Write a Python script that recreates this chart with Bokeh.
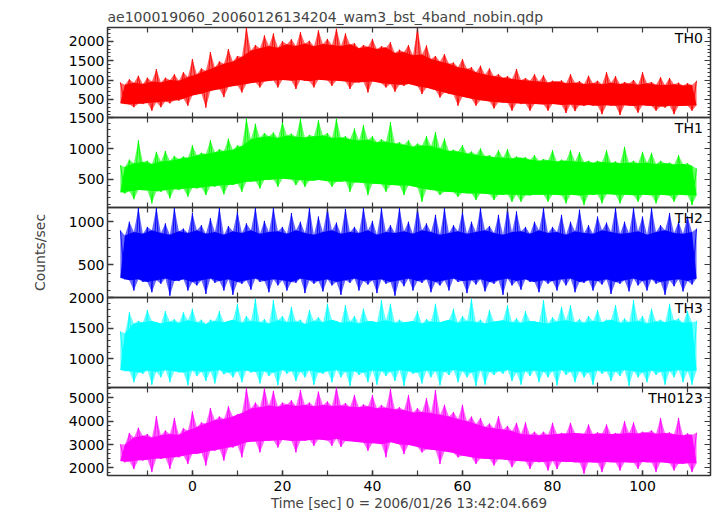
import math
from bokeh.plotting import figure
from bokeh.models import Range1d, LinearAxis, SingleIntervalTicker, FixedTicker, Label
from bokeh.layouts import column
from bokeh.embed import file_html
from bokeh.resources import INLINE

# ---------------- data ----------------
# spike peaks and lower edge of the dense core at even seconds,
# spike troughs and upper edge of the dense core at odd seconds
t_even = list(range(-16, 113, 2))
t_odd = list(range(-15, 112, 2))

th0_peak = [940, 1020, 1110, 1060, 1280, 1060, 1150, 1200, 1540, 1300,
            1720, 1480, 1800, 1620, 2350, 1900, 2150, 2200, 2000, 2050,
            2230, 2010, 2280, 2060, 2320, 2200, 1950, 1900, 2060, 1870,
            1975, 1780, 1900, 2350, 1890, 1620, 1670, 1450, 1540, 1330,
            1370, 1300, 1150, 1100, 1285, 1050, 1150, 1120, 980, 990,
            1150, 970, 1110, 980, 1200, 1100, 950, 1000, 1200, 950,
            1070, 1050, 930, 920, 980]
th0_trough = [380, 300, 380, 210, 300, 400, 470, 340, 640, 290,
              770, 560, 855, 680, 940, 810, 980, 810, 1030, 770,
              980, 810, 1030, 850, 985, 770, 940, 680, 985, 810,
              700, 850, 980, 640, 810, 550, 640, 340, 550, 340,
              470, 270, 420, 210, 380, 210, 380, 210, 380, 150,
              200, 330, 340, 120, 340, 100, 340, 160, 340, 210,
              290, 120, 340, 210]
th0_core_top = [880, 930, 900, 960, 940, 1000, 980, 1080,
                1150, 1240, 1330, 1420, 1480, 1600, 1760, 1820,
                1880, 1830, 1920, 1880, 1940, 1870, 1930, 1900,
                1880, 1920, 1820, 1860, 1800, 1840, 1700, 1720,
                1640, 1660, 1540, 1480, 1420, 1330, 1290, 1200,
                1140, 1100, 1060, 1030, 1000, 980, 960, 940,
                960, 920, 930, 900, 920, 890, 930, 900,
                910, 880, 920, 880, 870, 890, 860, 870]
th0_core_bottom = [400, 370, 390, 410, 430, 450, 470, 520,
                   600, 650, 720, 760, 820, 860, 900, 940,
                   960, 990, 1000, 980, 1000, 970, 1010, 990,
                   980, 960, 940, 950, 960, 920, 900, 880,
                   900, 840, 800, 740, 680, 620, 570, 520,
                   480, 450, 430, 410, 400, 390, 380, 370,
                   380, 360, 370, 350, 360, 340, 350, 340,
                   350, 330, 350, 330, 320, 340, 330, 340, 350]

th1_peak = [730, 820, 1130, 800, 946, 960, 880, 870, 1053, 930,
            1134, 990, 1160, 1050, 1483, 1400, 1250, 1260, 1429, 1240,
            1483, 1220, 1456, 1250, 1483, 1200, 1322, 1380, 1200, 1150,
            1429, 1100, 1134, 1080, 1200, 1268, 1161, 980, 1053, 950,
            1000, 890, 972, 990, 870, 860, 892, 830, 972, 820,
            972, 940, 800, 800, 972, 790, 1026, 800, 946, 930,
            800, 770, 892, 760, 677]
th1_trough = [273, 180, 327, 112, 300, 193, 327, 220, 354, 247,
              381, 260, 408, 300, 462, 354, 489, 381, 515, 408,
              380, 480, 489, 381, 462, 300, 462, 247, 435, 300,
              408, 247, 408, 139, 327, 247, 300, 220, 273, 166,
              273, 166, 247, 139, 140, 240, 247, 139, 247, 112,
              247, 85, 247, 112, 273, 112, 247, 139, 247, 112,
              247, 139, 247, 85]
th1_core_top = [700, 760, 780, 750, 790, 800, 830, 850,
                890, 910, 940, 960, 980, 1040, 1150, 1180,
                1200, 1170, 1210, 1190, 1180, 1200, 1210, 1170,
                1180, 1150, 1130, 1140, 1100, 1110, 1080, 1060,
                1030, 1050, 1040, 1000, 960, 950, 920, 900,
                880, 860, 850, 840, 850, 820, 800, 810,
                790, 800, 790, 780, 770, 780, 770, 760,
                770, 760, 770, 750, 760, 740, 750, 720]
th1_core_bottom = [290, 310, 330, 320, 310, 330, 340, 350,
                   360, 370, 390, 400, 410, 430, 460, 470,
                   490, 500, 510, 500, 490, 480, 490, 470,
                   460, 470, 450, 440, 430, 420, 410, 400,
                   400, 370, 340, 320, 300, 290, 280, 270,
                   270, 260, 250, 255, 250, 245, 250, 250,
                   250, 245, 250, 240, 250, 255, 260, 250,
                   250, 245, 250, 245, 250, 240, 250, 245, 240]

th2_peak = [900, 1000, 1160, 940, 1160, 980, 1160, 920, 1100, 960,
            1040, 1160, 950, 1120, 980, 1160, 1010, 1160, 940, 1100,
            1000, 1160, 1060, 1160, 990, 1150, 940, 1160, 1010, 1160,
            960, 1160, 1000, 1160, 980, 1080, 1160, 960, 1120, 1000,
            1160, 950, 1080, 1160, 1120, 940, 1000, 1160, 940, 1080,
            1000, 1140, 960, 1060, 990, 1160, 1000, 1160, 1060, 1160,
            960, 1100, 1000, 1060, 920]
th2_trough = [330, 200, 300, 180, 280, 140, 310, 200, 260, 160,
              290, 200, 150, 280, 210, 300, 180, 260, 200, 290,
              170, 280, 190, 260, 150, 290, 200, 270, 170, 280,
              140, 250, 200, 290, 180, 260, 200, 300, 170, 270,
              190, 280, 150, 260, 210, 300, 180, 280, 200, 260,
              180, 290, 200, 270, 160, 280, 190, 260, 200, 280,
              150, 250, 190, 270]
th2_core_top = [840, 880, 860, 900, 870, 850, 890, 870,
                900, 860, 880, 850, 890, 870, 900, 860,
                880, 890, 860, 900, 870, 850, 880, 900,
                860, 880, 870, 900, 850, 880, 870, 890,
                860, 900, 880, 850, 870, 890, 860, 880,
                900, 870, 850, 880, 890, 860, 900, 870,
                880, 850, 890, 870, 860, 900, 880, 860,
                870, 890, 850, 880, 900, 870, 860, 880]
th2_core_bottom = [350, 320, 330, 300, 320, 340, 310, 330,
                   300, 320, 340, 310, 330, 300, 320, 340,
                   310, 330, 320, 300, 340, 320, 310, 330,
                   300, 320, 340, 310, 320, 330, 300, 320,
                   340, 310, 330, 300, 320, 340, 310, 320,
                   330, 300, 320, 340, 310, 330, 300, 320,
                   310, 330, 340, 300, 320, 310, 330, 300,
                   320, 340, 310, 330, 300, 320, 330, 310, 340]

th3_peak = [1450, 1760, 1620, 1800, 1600, 1780, 1650, 1760, 1820, 1640,
            1640, 1780, 1620, 1900, 1700, 1980, 1650, 1960, 1700, 1850,
            1640, 1800, 1680, 1900, 1620, 1880, 1700, 1820, 1620, 1960,
            1900, 1640, 1600, 1780, 1650, 1900, 1620, 1820, 1700, 1980,
            1640, 1800, 1620, 1880, 1660, 1780, 1620, 1960, 1680, 1850,
            1880, 1650, 1700, 1800, 1640, 1880, 1660, 1960, 1700, 1820,
            1640, 1900, 1660, 1780, 1620]
th3_trough = [800, 620, 760, 580, 700, 620, 780, 570, 720, 640,
              600, 750, 700, 620, 780, 600, 720, 570, 760, 640,
              700, 580, 760, 620, 700, 560, 740, 620, 580, 720,
              640, 560, 760, 600, 700, 570, 740, 620, 700, 560,
              580, 740, 760, 640, 580, 720, 620, 700, 570, 740,
              620, 700, 580, 760, 640, 720, 560, 700, 620, 740,
              580, 700, 620, 580]
th3_core_top = [1420, 1580, 1600, 1620, 1580, 1610, 1590, 1630,
                1600, 1570, 1620, 1600, 1640, 1590, 1620, 1600,
                1580, 1630, 1600, 1610, 1570, 1620, 1600, 1640,
                1590, 1610, 1580, 1620, 1600, 1630, 1590, 1600,
                1620, 1580, 1610, 1600, 1640, 1590, 1620, 1600,
                1580, 1610, 1630, 1600, 1590, 1620, 1600, 1580,
                1610, 1630, 1600, 1590, 1620, 1600, 1640, 1590,
                1600, 1620, 1580, 1610, 1600, 1630, 1590, 1600]
th3_core_bottom = [820, 800, 780, 810, 790, 820, 800, 780,
                   810, 790, 800, 820, 780, 800, 810, 790,
                   800, 780, 820, 800, 790, 810, 780, 800,
                   820, 790, 800, 780, 810, 800, 790, 820,
                   800, 780, 810, 800, 790, 820, 800, 780,
                   810, 790, 800, 820, 780, 800, 810, 790,
                   800, 820, 790, 800, 780, 810, 800, 790,
                   820, 800, 780, 810, 790, 800, 820, 800, 810]

th0123_peak = [3017, 3500, 3721, 3450, 4213, 3600, 4143, 3700, 4425, 3950,
               4565, 4200, 4640, 4300, 5410, 4800, 5410, 5300, 4800, 4900,
               5340, 4800, 5269, 4850, 5450, 4780, 5129, 4720, 5129, 4700,
               5380, 4600, 5129, 4560, 4988, 5340, 4706, 4400, 4706, 4200,
               4143, 3900, 4213, 3800, 3932, 3950, 3550, 3550, 3932, 3500,
               3932, 3480, 3861, 3520, 3861, 3500, 4002, 3950, 3550, 3600,
               4143, 3520, 4143, 3480, 3509]
th0123_trough = [2242, 1950, 2313, 1820, 2383, 1961, 2453, 2172, 2594, 2102,
                 2735, 2313, 2876, 2453, 3157, 2665, 3157, 2876, 3228, 2665,
                 3157, 2946, 3228, 2946, 2900, 3200, 3157, 2735, 3087, 2453,
                 3157, 2594, 3017, 2665, 2805, 2172, 2735, 2453, 2524, 2172,
                 2383, 2102, 2383, 2031, 2313, 1961, 2242, 1890, 1950, 2250,
                 2242, 1749, 2242, 1820, 2242, 1890, 2242, 1961, 2242, 1820,
                 2242, 1890, 2172, 1820]
th0123_core_top = [3000, 3300, 3380, 3300, 3400, 3450, 3420, 3600,
                   3750, 3900, 4050, 4100, 4200, 4350, 4550, 4600,
                   4680, 4620, 4720, 4650, 4700, 4640, 4700, 4660,
                   4680, 4620, 4600, 4640, 4560, 4580, 4520, 4480,
                   4380, 4400, 4350, 4280, 4200, 4100, 4000, 3880,
                   3750, 3700, 3650, 3580, 3450, 3420, 3400, 3420,
                   3450, 3480, 3500, 3460, 3450, 3480, 3440, 3470,
                   3500, 3480, 3520, 3470, 3500, 3440, 3400, 3420]
th0123_core_bottom = [2300, 2280, 2330, 2350, 2400, 2420, 2460, 2520,
                      2600, 2640, 2740, 2800, 2880, 2960, 3100, 3130,
                      3150, 3180, 3200, 3150, 3170, 3200, 3220, 3180,
                      3250, 3150, 3120, 3080, 3060, 3020, 3100, 3000,
                      2980, 2900, 2800, 2760, 2700, 2640, 2520, 2460,
                      2400, 2380, 2370, 2340, 2300, 2280, 2260, 2250,
                      2300, 2260, 2250, 2230, 2240, 2220, 2250, 2230,
                      2240, 2220, 2250, 2230, 2240, 2200, 2180, 2200, 2200]

names = ["TH0", "TH1", "TH2", "TH3", "TH0123"]
peaks = [th0_peak, th1_peak, th2_peak, th3_peak, th0123_peak]
troughs = [th0_trough, th1_trough, th2_trough, th3_trough, th0123_trough]
core_tops = [th0_core_top, th1_core_top, th2_core_top, th3_core_top, th0123_core_top]
core_bottoms = [th0_core_bottom, th1_core_bottom, th2_core_bottom, th3_core_bottom,
                th0123_core_bottom]
colors = ["#ff0000", "#00ff00", "#0000ff", "#00ffff", "#ff00ff"]
y_ranges = [(35, 2354), (45, 1502), (119, 1166), (534, 2003), (1675, 5448)]
y_steps = [500, 500, 500, 500, 1000]
x_limits = (-18.86, 115.1)
x_step = 20
x_minor = 10

title_text = "ae100019060_20060126134204_wam3_bst_4band_nobin.qdp"
x_label = "Time [sec] 0 = 2006/01/26 13:42:04.669"
y_label = "Counts/sec"

FONT = "DejaVu Sans"
TICK_COLOR = "#3a3a3a"

x_range = Range1d(*x_limits)


def multiples(lo, hi, step):
    start = int(math.ceil(lo / step))
    stop = int(math.floor(hi / step))
    return [k * step for k in range(start, stop + 1)]


def interleave(a, b):
    out = []
    for k in range(len(b)):
        out += [a[k], b[k]]
    out.append(a[-1])
    return out


def tick_style(ax, major_in, minor_in):
    ax.axis_line_color = None
    ax.major_tick_in = major_in
    ax.major_tick_out = 0
    ax.minor_tick_in = minor_in
    ax.minor_tick_out = 0
    ax.major_tick_line_color = TICK_COLOR
    ax.minor_tick_line_color = TICK_COLOR
    ax.major_tick_line_width = 1.5
    ax.minor_tick_line_width = 1.2
    ax.major_label_text_font = FONT
    ax.major_label_text_font_size = "14px"
    ax.major_label_text_color = "#000000"


def bare_axis(positions, tick_len):
    # ticks only, no labels: positions given as minor ticks of a fixed ticker
    ax = LinearAxis(ticker=FixedTicker(ticks=[], minor_ticks=positions))
    tick_style(ax, tick_len, tick_len)
    ax.major_label_standoff = 0
    return ax


heights = [90, 90, 90, 90, 88]
figs = []
n = len(names)
x_tick_pos = multiples(x_limits[0], x_limits[1], x_minor)
t_all = interleave(t_even, t_odd)
for i in range(n):
    first = i == 0
    last = i == n - 1
    y0, y1 = y_ranges[i]
    p = figure(
        x_range=x_range,
        y_range=Range1d(y0, y1),
        frame_width=603,
        frame_height=heights[i],
        min_border_left=107,
        min_border_right=4,
        min_border_top=27 if first else 10,
        min_border_bottom=0 if last else 10,
        x_axis_location=None,
        y_axis_location=None,
        output_backend="svg",
        toolbar_location=None,
        title=title_text if first else None,
    )
    p.outline_line_color = "#333333"
    p.outline_line_width = 1.5
    p.border_fill_color = None
    p.background_fill_color = None
    for g in p.grid:
        g.visible = False
    if not first:
        p.margin = (-20, 0, 0, 0)
    if first:
        p.title.text_font = FONT
        p.title.text_font_size = "14px"
        p.title.text_font_style = "normal"
        p.title.align = "left"
        p.title.standoff = 6

    c = colors[i]
    # pale spiky envelope: peaks/core-top above, core-bottom/troughs below
    upper = interleave(peaks[i], core_tops[i])
    lower = interleave(core_bottoms[i], troughs[i])
    p.varea(x=t_all, y1=lower, y2=upper, fill_color=c, fill_alpha=0.6)
    # dense core of the light curve
    p.patch(x=t_odd + t_even[::-1], y=core_tops[i] + core_bottoms[i][::-1],
            fill_color=c, line_color=None)
    # spikes: line zig-zagging between peaks and troughs
    p.line(x=t_all, y=interleave(peaks[i], troughs[i]),
           line_color=c, line_width=1.0, line_alpha=0.9)

    # x ticks (bottom, top)
    if last:
        below = LinearAxis(ticker=SingleIntervalTicker(interval=x_step, num_minor_ticks=2))
        tick_style(below, 5, 5)
        below.major_label_standoff = 5
        below.axis_label = x_label
        below.axis_label_text_font = FONT
        below.axis_label_text_font_size = "13.5px"
        below.axis_label_text_font_style = "normal"
        below.axis_label_standoff = 1
    else:
        below = bare_axis(x_tick_pos, 5)
    p.add_layout(below, "below")
    p.add_layout(bare_axis(x_tick_pos, 5), "above")

    # y ticks (left with labels, right bare)
    left = LinearAxis(ticker=SingleIntervalTicker(interval=y_steps[i], num_minor_ticks=5))
    tick_style(left, 6, 3)
    left.major_label_standoff = 3
    if i == 2:
        left.axis_label = y_label
        left.axis_label_text_font = FONT
        left.axis_label_text_font_size = "14px"
        left.axis_label_text_font_style = "normal"
        left.axis_label_standoff = 18
    p.add_layout(left, "left")

    major_y = multiples(y0, y1, y_steps[i])
    minor_y = [v for v in multiples(y0, y1, y_steps[i] // 5) if v not in major_y]
    p.add_layout(bare_axis(major_y, 6), "right")
    p.add_layout(bare_axis(minor_y, 3), "right")

    p.add_layout(Label(
        x=x_limits[1] - 1.7, y=y1 - (y1 - y0) * 0.025, text=names[i],
        text_align="right", text_baseline="top",
        text_font=FONT, text_font_size="14px", text_color="#000000",
    ))
    figs.append(p)

layout = column(*figs)
open("out.html", "w").write(file_html(layout, INLINE))
